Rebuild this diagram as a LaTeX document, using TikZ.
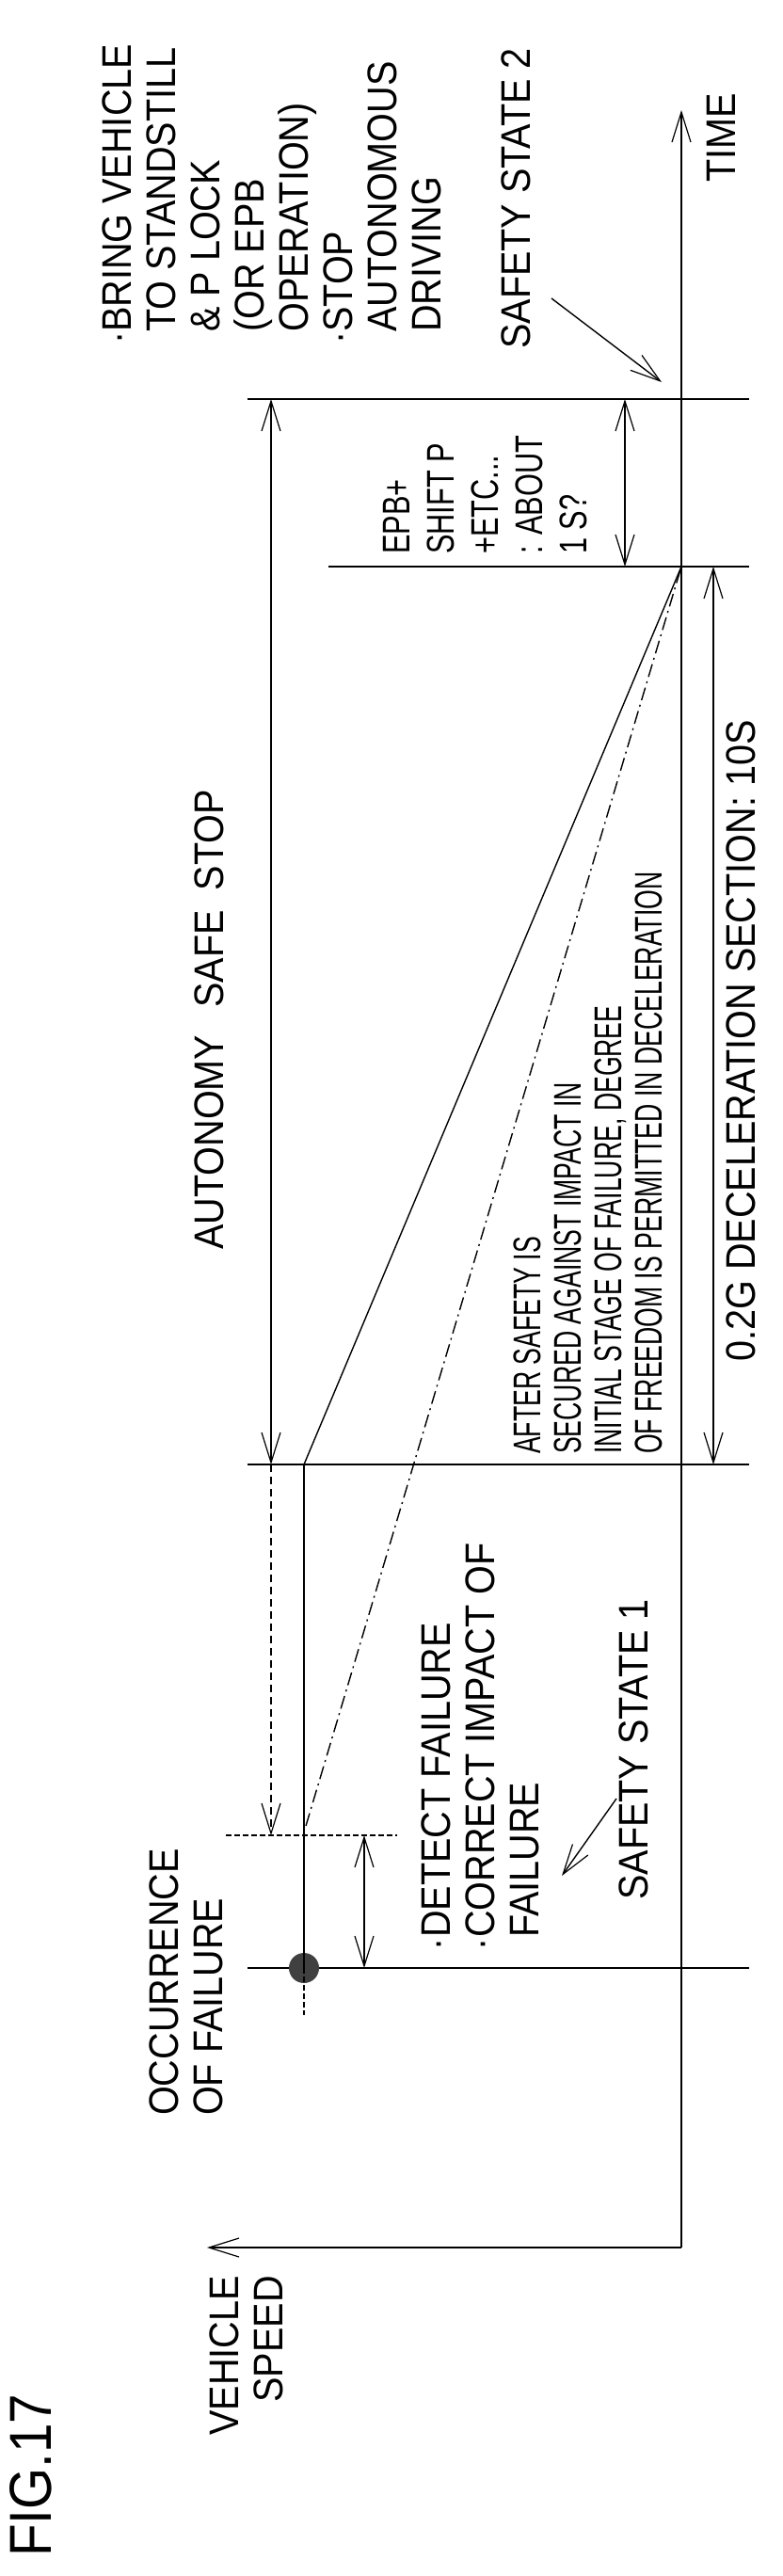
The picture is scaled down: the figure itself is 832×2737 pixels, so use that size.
\documentclass[tikz,border=0pt]{standalone}
\usepackage{fontspec}
\setmainfont[FakeStretch=0.9]{Liberation Sans}
\newfontfamily\narrowA[FakeStretch=0.65]{Liberation Sans}
\newfontfamily\narrowB[FakeStretch=0.75]{Liberation Sans}
\usetikzlibrary{arrows.meta}
\begin{document}
\begin{tikzpicture}[x=1pt,y=-1pt,
  ln/.style={line width=1.4pt},
  ar/.style={ln,-{Straight Barb[length=32pt,width=20pt,line width=1.2pt]}},
  dar/.style={ln,{Straight Barb[length=32pt,width=20pt,line width=1.2pt]}-{Straight Barb[length=32pt,width=20pt,line width=1.2pt]}},
  t/.style={rotate=90,anchor=north west,inner sep=0pt,align=left,font=\fontsize{44}{47}\selectfont},
  bul/.style={}]
\useasboundingbox (0,0) rectangle (832,2737);
% coordinates
\coordinate (corner) at (724,2388);
\coordinate (timetip) at (724,117);
\coordinate (speedtip) at (220,2388);
\coordinate (A1) at (263,424); \coordinate (A2) at (796,424);
\coordinate (B1) at (349,602); \coordinate (B2) at (796,602);
\coordinate (C1) at (263,1556); \coordinate (C2) at (796,1556);
\coordinate (D1) at (240,1950); \coordinate (D2) at (422,1950);
\coordinate (E1) at (263,2091); \coordinate (E2) at (796,2091);
\coordinate (stop) at (724,602);
% axes
\draw[ar] (corner) -- (timetip);
\draw[ar] (corner) -- (speedtip);
% horizontal lines
\draw[ln] (A1) -- (A2);
\draw[ln] (B1) -- (B2);
\draw[ln] (C1) -- (C2);
\draw[ln,dashed,dash pattern=on 6pt off 3pt] (D1) -- (D2);
\draw[ln] (E1) -- (E2);
% speed profile
\node[circle,fill=black!75,minimum size=32pt,inner sep=0pt] (dot) at (323,2091) {};
\coordinate (s1) at (323,1556);
\coordinate (s2) at (323,2141);
\coordinate (s3) at (325,1940);
\draw[ln] (s1) -- (dot.center);
\draw[ln,dashed,dash pattern=on 6pt off 3pt] (dot.center) -- (s2);
\draw[ln] (s1) -- (stop);
\draw[ln,dash pattern=on 14pt off 5pt on 2pt off 5pt] (s3) -- (stop);
% dimension arrows
\draw[dar] (288,424) -- (288,1556);
\draw[ar,dashed,dash pattern=on 8pt off 5pt] (288,1556) -- (288,1950);
\draw[dar] (387,1950) -- (387,2091);
\draw[dar] (664,424) -- (664,602);
\draw[dar] (758,602) -- (758,1556);
% pointer arrows
\draw[ar] (586,317) -- (703,406);
\draw[ar] (655,1911) -- (597,1993);
% texts
\node[t] (bring) at (109,353) {\llap{\textperiodcentered}BRING VEHICLE\\TO STANDSTILL\\\& P LOCK\\(OR EPB\\OPERATION)\\\llap{\textperiodcentered}STOP\\AUTONOMOUS\\DRIVING};
\node[t] (ss2) at (533,371) {SAFETY STATE 2};
\node[t] (time) at (751,194) {TIME};
\node[t,font=\narrowB\fontsize{41}{47}\selectfont] (epb) at (407,589) {EPB+\\SHIFT P\\+ETC...\\: ABOUT\\1 S?};
\node[t] (ass) at (207,1328) {AUTONOMY\hspace{18pt} SAFE\hspace{10pt} STOP};
\node[t,font=\narrowA\fontsize{41}{43}\selectfont] (after) at (546,1545) {AFTER SAFETY IS\\SECURED AGAINST IMPACT IN\\INITIAL STAGE OF FAILURE, DEGREE\\OF FREEDOM IS PERMITTED IN DECELERATION};
\node[t] (dec) at (772,1447) {0.2G DECELERATION SECTION: 10S};
\node[t] (occ) at (159,2248) {OCCURRENCE\\OF FAILURE};
\node[t] (det) at (448,2059) {\llap{\textperiodcentered}DETECT FAILURE\\\llap{\textperiodcentered}CORRECT IMPACT OF\\FAILURE};
\node[t] (ss1) at (658,2019) {SAFETY STATE 1};
\node[t,anchor=north east,align=right] (vs) at (223,2418) {VEHICLE\\SPEED};
\node[t,font=\fontsize{63}{70}\selectfont] (fig) at (10,2717) {FIG.17};
\end{tikzpicture}
\end{document}
